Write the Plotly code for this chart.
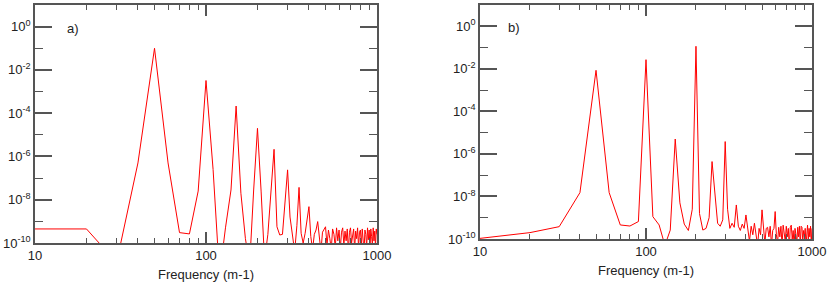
import plotly.graph_objects as go

# Frequency grid (m-1)
freq = list(range(10, 1001, 10))

# log10 of spectral power, panel a)
log_power_a = [
    -9.35, -9.35, -10.9, -6.3, -1.0, -6.3, -9.52, -9.58, -7.6, -2.49,      # 10-100
    -6.6, -11.5, -9.3, -7.55, -3.67, -7.7, -9.8, -11.0, -7.55, -4.70,      # 110-200
    -7.6, -10.8, -9.6, -7.6, -5.67, -9.25, -9.63, -9.6, -8.2, -6.62,       # 210-300
    -8.8, -9.55, -10.4, -9.2, -7.43, -9.55, -10.0, -9.55, -8.9, -8.32,     # 310-400
    -9.7, -10.3, -9.6, -9.4, -9.01, -9.7, -10.4, -9.5, -9.35, -9.25,       # 410-500
    -10.1, -9.4, -9.8, -10.3, -9.35, -9.6, -10.2, -9.3, -9.9, -9.4,        # 510-600
    -10.3, -9.5, -9.3, -10.1, -9.45, -9.9, -9.35, -10.4, -9.5, -9.3,       # 610-700
    -10.0, -9.6, -9.35, -10.3, -9.45, -9.8, -9.3, -10.2, -9.5, -9.4,       # 710-800
    -10.1, -9.35, -9.9, -10.4, -9.4, -9.6, -10.2, -9.3, -9.85, -9.4,       # 810-900
    -10.3, -9.35, -9.7, -10.1, -9.3, -9.9, -9.45, -10.2, -9.35, -9.6,      # 910-1000
]

# log10 of spectral power, panel b)
log_power_b = [
    -9.97, -9.70, -9.42, -7.82, -2.07, -7.82, -9.34, -9.39, -9.18, -1.57,  # 10-100
    -8.95, -9.34, -10.3, -9.58, -5.3, -8.3, -9.3, -9.6, -8.6, -0.94,       # 110-200
    -8.8, -9.58, -9.5, -9.0, -6.36, -7.8, -9.26, -9.4, -9.1, -5.42,        # 210-300
    -8.6, -9.5, -9.26, -9.45, -8.4, -9.4, -9.6, -9.3, -9.5, -8.87,         # 310-400
    -9.6, -10.1, -9.4, -9.8, -9.26, -9.9, -10.3, -9.5, -9.8, -8.63,        # 410-500
    -9.7, -10.2, -9.5, -9.45, -9.9, -9.4, -10.3, -9.6, -9.5, -8.71,        # 510-600
    -9.8, -10.2, -9.45, -9.9, -9.4, -10.3, -9.35, -9.8, -10.1, -9.4,       # 610-700
    -9.9, -9.5, -10.4, -9.45, -9.35, -10.0, -9.6, -10.3, -9.5, -9.8,       # 710-800
    -10.2, -9.45, -9.9, -9.4, -10.3, -9.4, -9.45, -10.1, -9.6, -9.9,       # 810-900
    -9.5, -10.3, -9.4, -9.35, -10.0, -9.5, -9.9, -9.4, -10.2, -9.5,        # 910-1000
]

power_a = [10 ** v for v in log_power_a]
power_b = [10 ** v for v in log_power_b]

x_major = [10, 100, 1000]
x_major_text = ["10", "100", "1000"]
x_minor = [20, 30, 40, 50, 60, 70, 80, 90, 200, 300, 400, 500, 600, 700, 800, 900]
y_major_exp = [0, -2, -4, -6, -8, -10]
y_minor_exp = [-1, -3, -5, -7, -9]
y_major = [10 ** e for e in y_major_exp]
y_major_text = ["10<sup>%d</sup>" % e for e in y_major_exp]
y_minor = [10 ** e for e in y_minor_exp]

panel_labels = ["a)", "b)"]
x_title = "Frequency (m-1)"

FONT = "Liberation Sans, Arial, Helvetica, sans-serif"
AXC = "#555555"
LINE = "#ff0000"

fig = go.Figure()
fig.add_trace(go.Scatter(x=freq, y=power_a, mode="lines",
                         line=dict(color=LINE, width=1), xaxis="x", yaxis="y",
                         showlegend=False))
fig.add_trace(go.Scatter(x=freq, y=power_b, mode="lines",
                         line=dict(color=LINE, width=1), xaxis="x2", yaxis="y2",
                         showlegend=False))

W, H = 831, 284
ml, mr, mt, mb = 35, 19, 5, 41
pw = W - ml - mr
ph = H - mt - mb


def xdom(a, b):
    return [(a - ml) / pw, (b - ml) / pw]


def ydom(bottom, top):
    return [(H - mb - bottom) / ph, (H - mb - top) / ph]


def xaxis_cfg(dom, anchor):
    return dict(
        type="log", range=[1, 3], domain=dom, anchor=anchor,
        showline=True, linecolor=AXC, linewidth=1.5, mirror="ticks",
        showgrid=False, zeroline=False,
        tickmode="array", tickvals=x_major, ticktext=x_major_text,
        ticks="inside", ticklen=11, tickwidth=1.5, tickcolor=AXC,
        minor=dict(tickmode="array", tickvals=x_minor, ticks="inside",
                   ticklen=5, tickwidth=1.2, tickcolor=AXC, showgrid=False),
        tickfont=dict(family=FONT, size=13, color="#222222"),
        title=dict(text=x_title, font=dict(family=FONT, size=13, color="#222222"),
                   standoff=8),
        automargin=False,
    )


def yaxis_cfg(dom, anchor):
    return dict(
        type="log", range=[-10, 1], domain=dom, anchor=anchor,
        showline=True, linecolor=AXC, linewidth=1.5, mirror="ticks",
        showgrid=False, zeroline=False,
        tickmode="array", tickvals=y_major, ticktext=y_major_text,
        ticks="inside", ticklen=17, tickwidth=1.5, tickcolor=AXC,
        minor=dict(tickmode="array", tickvals=y_minor, ticks="inside",
                   ticklen=8, tickwidth=1.2, tickcolor=AXC, showgrid=False),
        tickfont=dict(family=FONT, size=13, color="#222222"),
        automargin=False,
    )


fig.update_layout(
    width=W, height=H,
    margin=dict(l=ml, r=mr, t=mt, b=mb, pad=0),
    paper_bgcolor="white", plot_bgcolor="white",
    xaxis=xaxis_cfg(xdom(35, 377), "y"),
    yaxis=yaxis_cfg(ydom(243, 5), "x"),
    xaxis2=xaxis_cfg(xdom(480, 812), "y2"),
    yaxis2=yaxis_cfg(ydom(239, 5), "x2"),
    annotations=[
        dict(text=panel_labels[0], xref="x domain", yref="y domain",
             x=0.088, y=0.90, xanchor="left", yanchor="middle", showarrow=False,
             font=dict(family=FONT, size=13, color="#222222")),
        dict(text=panel_labels[1], xref="x2 domain", yref="y2 domain",
             x=0.078, y=0.905, xanchor="left", yanchor="middle", showarrow=False,
             font=dict(family=FONT, size=13, color="#222222")),
    ],
)

fig.write_html(
    "out.html",
    config={"displayModeBar": False},
    post_script="document.body.style.margin='0';document.body.style.padding='0';",
)
